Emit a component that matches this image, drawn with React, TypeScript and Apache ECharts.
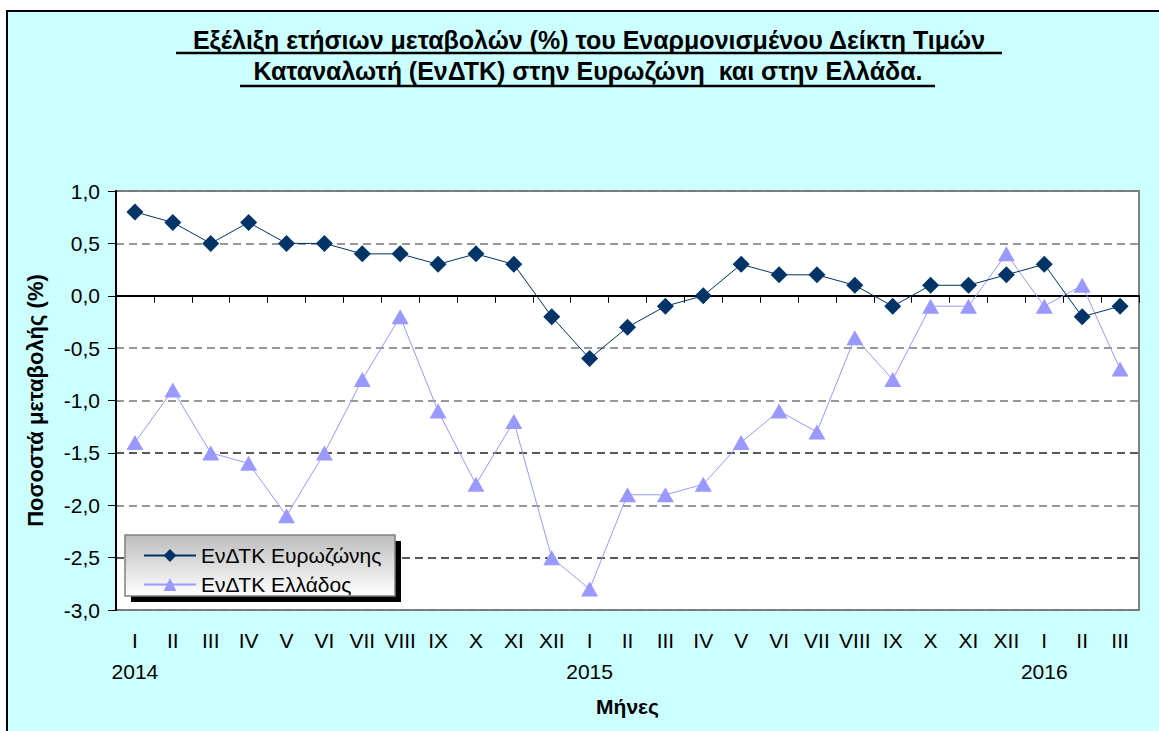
import { useEffect, useRef } from "react";
import * as echarts from "echarts";

const categories = [
  "I", "II", "III", "IV", "V", "VI", "VII", "VIII", "IX", "X", "XI", "XII",
  "I", "II", "III", "IV", "V", "VI", "VII", "VIII", "IX", "X", "XI", "XII",
  "I", "II", "III",
];
const yearIndices = [0, 12, 24];
const yearLabels = ["2014", "2015", "2016"];

const eurozone = [
  0.8, 0.7, 0.5, 0.7, 0.5, 0.5, 0.4, 0.4, 0.3, 0.4, 0.3, -0.2,
  -0.6, -0.3, -0.1, 0.0, 0.3, 0.2, 0.2, 0.1, -0.1, 0.1, 0.1, 0.2,
  0.3, -0.2, -0.1,
];
const greece = [
  -1.4, -0.9, -1.5, -1.6, -2.1, -1.5, -0.8, -0.2, -1.1, -1.8, -1.2, -2.5,
  -2.8, -1.9, -1.9, -1.8, -1.4, -1.1, -1.3, -0.4, -0.8, -0.1, -0.1, 0.4,
  -0.1, 0.1, -0.7,
];

const titleLine1 = "Εξέλιξη ετήσιων μεταβολών (%) του Εναρμονισμένου Δείκτη Τιμών";
const titleLine2 = "Καταναλωτή (ΕνΔΤΚ) στην Ευρωζώνη  και στην Ελλάδα.";
const seriesNames = ["ΕνΔΤΚ Ευρωζώνης", "ΕνΔΤΚ Ελλάδος"];
const yAxisName = "Ποσοστά μεταβολής (%)";
const xAxisName = "Μήνες";

const FONT = "Arial, 'Liberation Sans', sans-serif";

export default function App() {
  const ref = useRef<HTMLDivElement>(null);

  useEffect(() => {
    if (!ref.current) return;
    const chart = echarts.init(ref.current, undefined, { renderer: "svg" });
    const option: any = {
      animation: false,
      graphic: [
        {
          type: "rect",
          z: -10,
          shape: { x: 7, y: 11, width: 1170, height: 740 },
          style: { fill: "#CCFFFF", stroke: "#000", lineWidth: 2 },
        },
        {
          type: "text",
          x: 589,
          y: 40,
          style: {
            text: titleLine1,
            textAlign: "center",
            textVerticalAlign: "middle",
            font: `bold 25px ${FONT}`,
            fill: "#000",
          },
        },
        {
          type: "line",
          shape: { x1: 176, y1: 53, x2: 1002, y2: 53 },
          style: { stroke: "#000", lineWidth: 2.5 },
        },
        {
          type: "text",
          x: 588,
          y: 71,
          style: {
            text: titleLine2,
            textAlign: "center",
            textVerticalAlign: "middle",
            font: `bold 25px ${FONT}`,
            fill: "#000",
          },
        },
        {
          type: "line",
          shape: { x1: 240, y1: 86, x2: 935, y2: 86 },
          style: { stroke: "#000", lineWidth: 2.5 },
        },
        {
          type: "rect",
          z: 10,
          shape: { x: 131, y: 541, width: 270, height: 61 },
          style: { fill: "#000" },
        },
        {
          type: "rect",
          z: 11,
          shape: { x: 125, y: 535, width: 270, height: 61 },
          style: {
            fill: new echarts.graphic.LinearGradient(0, 0, 0, 1, [
              { offset: 0, color: "#BDBDBD" },
              { offset: 1, color: "#FFFFFF" },
            ]),
            stroke: "#808080",
            lineWidth: 1.5,
          },
        },
      ],
      legend: {
        z: 20,
        orient: "vertical",
        left: 138,
        top: 540,
        itemWidth: 52,
        itemHeight: 16,
        itemGap: 8,
        textStyle: { fontFamily: FONT, fontSize: 21, color: "#000" },
        data: seriesNames,
      },
      grid: {
        left: 116,
        top: 191,
        width: 1023,
        height: 419,
        show: true,
        backgroundColor: "#FFFFFF",
        borderColor: "#808080",
        borderWidth: 2,
      },
      xAxis: {
        type: "category",
        data: categories,
        boundaryGap: true,
        name: xAxisName,
        nameLocation: "middle",
        nameGap: 86,
        nameTextStyle: { fontFamily: FONT, fontSize: 21, fontWeight: "bold", color: "#000" },
        axisLine: { lineStyle: { color: "#000", width: 2 } },
        axisTick: { show: true, inside: false, length: 7, interval: 0, lineStyle: { color: "#000" } },
        axisLabel: {
          interval: 0,
          margin: 15,
          fontFamily: FONT,
          fontSize: 21,
          color: "#000",
          lineHeight: 31,
          formatter: (v: string, i: number) => {
            const k = yearIndices.indexOf(i);
            return k >= 0 ? `${v}\n${yearLabels[k]}` : v;
          },
        },
        splitLine: { show: false },
      },
      yAxis: {
        type: "value",
        min: -3,
        max: 1,
        interval: 0.5,
        name: yAxisName,
        nameLocation: "middle",
        nameGap: 70,
        nameRotate: 90,
        nameTextStyle: { fontFamily: FONT, fontSize: 22, fontWeight: "bold", color: "#000" },
        axisLine: { show: true, lineStyle: { color: "#000", width: 2 } },
        axisTick: { show: true, inside: false, length: 8, lineStyle: { color: "#000" } },
        axisLabel: {
          margin: 16,
          fontFamily: FONT,
          fontSize: 21,
          color: "#000",
          formatter: (v: number) => v.toFixed(1).replace(".", ","),
        },
        splitLine: {
          show: true,
          lineStyle: {
            color: ["#777", "#222", "#777", "#222", "#777", "#777", "#222", "#777", "#777"],
            type: [8, 5],
            width: 1.5,
          },
        },
      },
      series: [
        {
          name: seriesNames[0],
          type: "line",
          data: eurozone,
          symbol: "diamond",
          symbolSize: 17,
          itemStyle: { color: "#003366" },
          lineStyle: { color: "#003366", width: 1 },
          z: 3,
        },
        {
          name: seriesNames[1],
          type: "line",
          data: greece,
          symbol: "triangle",
          symbolSize: [17, 15],
          itemStyle: { color: "#9999FF" },
          lineStyle: { color: "#9999FF", width: 1 },
          z: 2,
        },
      ],
    };
    chart.setOption(option);
    return () => chart.dispose();
  }, []);

  return (
    <div
      style={{
        position: "fixed",
        left: 0,
        top: 0,
        width: 1159,
        height: 731,
        overflow: "hidden",
        background: "#fff",
      }}
    >
      <div ref={ref} style={{ width: 1159, height: 731 }} />
    </div>
  );
}
